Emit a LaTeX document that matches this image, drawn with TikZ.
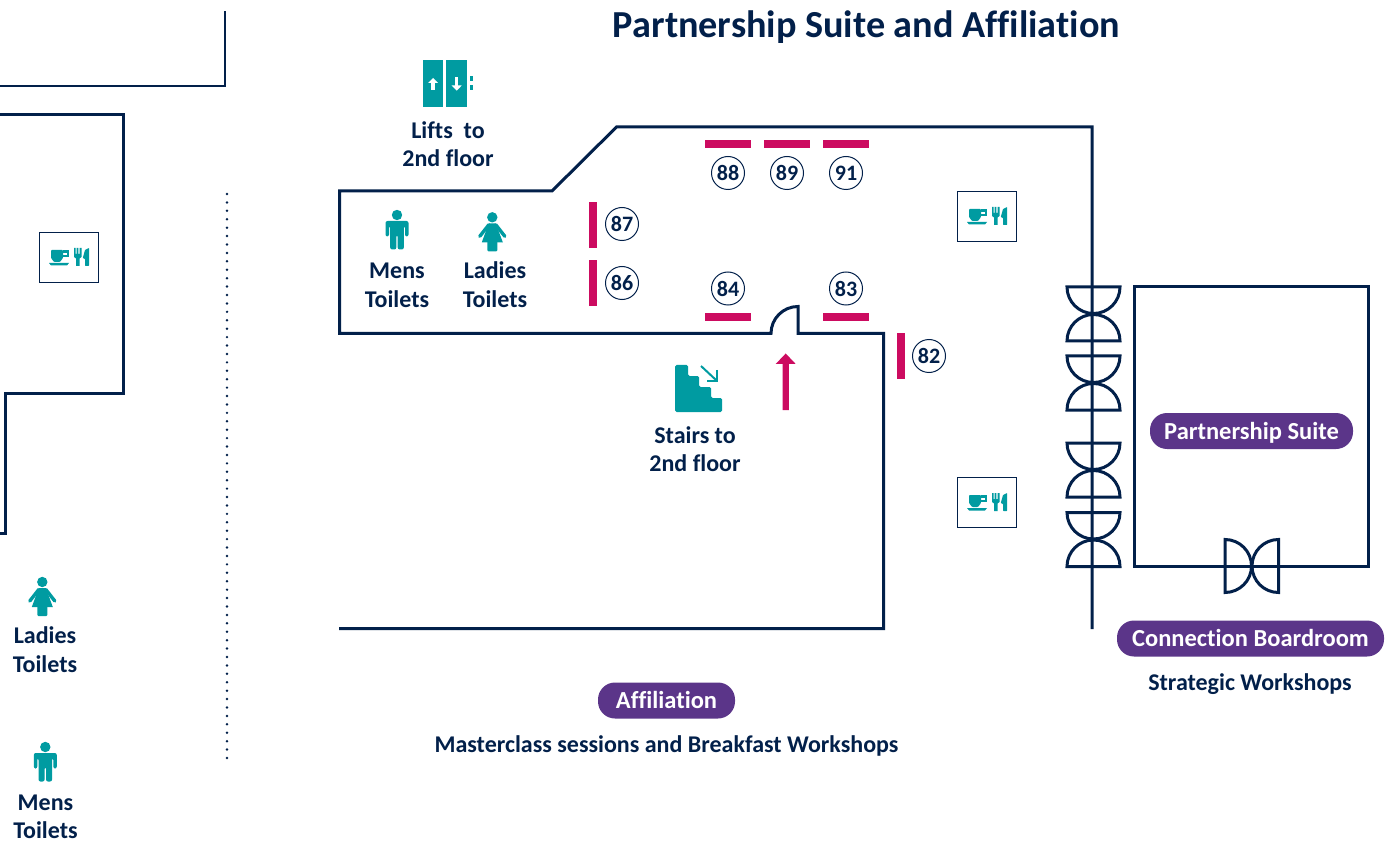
\documentclass[tikz,border=0pt]{standalone}
\usepackage{fontspec}
\setmainfont[Ligatures=NoCommon]{Carlito}
\definecolor{navy}{HTML}{02204A}
\definecolor{teal}{HTML}{009BA1}
\definecolor{crim}{HTML}{CC0B60}
\definecolor{purp}{HTML}{5B3589}
\newcommand{\txt}[1]{\fontsize{#1}{#1}\selectfont\bfseries}
\tikzset{
 wall/.style={draw=navy,line width=3pt,line join=miter},
 door/.style={draw=navy,line width=3pt},
 lbl/.style={text=navy,font=\txt{24},align=center,inner sep=0pt},
 pill/.style={fill=purp,text=white,rounded corners=17pt,font=\txt{24.5},inner sep=0pt,minimum height=36pt,text height=19pt,text depth=3pt},
 stand/.style={fill=crim,draw=none},
 num/.style={circle,draw=navy,line width=1pt,minimum size=33pt,inner sep=0pt,text=navy,font=\txt{22}},
 cater/.style={draw=navy,line width=0.9pt,fill=white,minimum width=59pt,minimum height=50pt,inner sep=0pt},
}
\newcommand{\dbl}[2]{%
 \draw[door] (#1-26.5,#2) -- (#1+26.5,#2) arc[start angle=0,end angle=-180,radius=26.5] -- cycle;
 \draw[door] (#1-26.5,#2-54) -- (#1+26.5,#2-54) arc[start angle=0,end angle=180,radius=26.5] -- cycle;}
\newcommand{\manicon}[2]{%
 \begin{scope}[shift={(#1,#2)}]
 \fill[teal] (0,0) circle (5.2);
 \fill[teal,rounded corners=2pt] (-11.5,-6) -- (11.5,-6) -- (11.5,-21.5) -- (8,-21.5) -- (8,-11) -- (6.8,-11) -- (6.8,-34.5) -- (0.7,-34.5) -- (0.7,-20) -- (-0.7,-20) -- (-0.7,-34.5) -- (-6.8,-34.5) -- (-6.8,-11) -- (-8,-11) -- (-8,-21.5) -- (-11.5,-21.5) -- cycle;
 \end{scope}}
\newcommand{\ladyicon}[2]{%
 \begin{scope}[shift={(#1,#2)}]
 \fill[teal] (0,0) circle (5.2);
 \fill[teal] (-3.5,-6) -- (3.5,-6) -- (10.5,-25) -- (-10.5,-25) -- cycle;
 \fill[teal,rounded corners=1pt] (-5,-24) -- (5,-24) -- (5,-34) -- (-5,-34) -- cycle;
 \draw[teal,line width=3.4pt,line cap=round] (3.5,-7.5) -- (12.5,-19);
 \draw[teal,line width=3.4pt,line cap=round] (-3.5,-7.5) -- (-12.5,-19);
 \end{scope}}
\newcommand{\foodicon}[2]{%
 \begin{scope}[shift={(#1,#2)}]
 \fill[teal,rounded corners=0.8pt] (-18,7) -- (-6,7) -- (-6,-1) -- (-9,-5) -- (-15,-5) -- (-18,-1) -- cycle;
 \draw[teal,line width=2.2pt] (-6,5.5) -- (-1,5.5) -- (-1,1) -- (-6,1);
 \fill[teal] (-20,-6) -- (0,-6) -- (-2,-8.5) -- (-18,-8.5) -- cycle;
 \fill[teal] (5,9) -- (6.5,9) -- (6.5,3) -- (7.7,3) -- (7.7,9) -- (9.3,9) -- (9.3,3) -- (10.5,3) -- (10.5,9) -- (12.5,9) -- (12.5,0) -- (10.6,-1.5) -- (10.6,-9) -- (7,-9) -- (7,-1.5) -- (5,0) -- cycle;
 \fill[teal,rounded corners=0.5pt] (16,-9) -- (20,-9) -- (20,9) -- (16,7) -- (13.8,-1) -- (16,-2) -- cycle;
 \end{scope}}
\newcommand{\caterbox}[3]{%
 \node[cater] (#3) at (#1,#2) {};
 \foodicon{#1}{#2}}
\newcommand{\standh}[1]{\fill[stand] (#1-23,-140) rectangle (#1+23,-148);}
\begin{document}
\begin{tikzpicture}[x=1pt,y=1pt]
\useasboundingbox (0,0) rectangle (1390,-842);
% left fragments
\draw[wall,line width=2.2pt] (-3,-86) -- (225,-86) -- (225,-11);
\draw[wall] (-3,-115) -- (123.7,-115) -- (123.7,-393) -- (5,-393) -- (5,-533) -- (-3,-533);
\caterbox{69}{-257}{cl}
\draw[navy,line width=2.7pt,line cap=round,dash pattern=on 0pt off 8.418pt] (227,-194) -- (227,-758.5);
\ladyicon{42.3}{-582}
\node[lbl] (lt2) at (45,-649.5) {Ladies\\[4.5pt]Toilets};
\manicon{45.3}{-747}
\node[lbl] (mt2) at (45.5,-816.8) {Mens\\[4.5pt]Toilets};
% title
\node[text=navy,font=\txt{38.2},inner sep=0pt] (title) at (866.5,-27.5) {Partnership Suite and Affiliation};
% lifts
\fill[teal] (423,-60) rectangle (443.3,-106.7);
\fill[teal] (446,-60) rectangle (467,-106.7);
\fill[teal] (470,-76) rectangle (473,-81);
\fill[teal] (470,-85) rectangle (473,-90);
\fill[white] (431.4,-90) rectangle (434.6,-82);
\fill[white] (428,-83) -- (433,-78) -- (438,-83) -- cycle;
\fill[white] (455.1,-77) rectangle (458.3,-86);
\fill[white] (451.7,-85.5) -- (456.7,-90.7) -- (461.7,-85.5) -- cycle;
\node[lbl] (lifts) at (448,-144) {Lifts~ to\\[4pt]2nd floor};
% main walls
\draw[wall] (339,-628.5) -- (883.5,-628.5) -- (883.5,-333.5) -- (798,-333.5) -- (798,-306.5)
  arc[start angle=90,end angle=180,radius=27] -- (771,-333.5) -- (339.5,-333.5) -- (339.5,-191) -- (552,-191) -- (616.5,-127) -- (1092,-127) -- (1092,-629);
\dbl{1093.5}{-287}
\dbl{1093.5}{-356}
\dbl{1093.5}{-443}
\dbl{1093.5}{-512.5}
% suite
\draw[wall] (1134.5,-287) rectangle (1368,-566.5);
\draw[door] (1225,-539.5) -- (1225,-592.5) arc[start angle=-90,end angle=90,radius=26.5] -- cycle;
\draw[door] (1278.5,-539.5) -- (1278.5,-592.5) arc[start angle=-90,end angle=-270,radius=26.5] -- cycle;
% stands
\standh{728}\standh{787}\standh{846}
\fill[stand] (705,-313) rectangle (751,-321);
\fill[stand] (823,-313) rectangle (869,-321);
\fill[stand] (589,-202) rectangle (597,-248);
\fill[stand] (589,-260) rectangle (597,-306);
\fill[stand] (897,-333) rectangle (905,-379);
\node[num] (n88) at (728,-173) {88};
\node[num] (n89) at (787,-173) {89};
\node[num] (n91) at (846,-173) {91};
\node[num] (n87) at (622,-224) {87};
\node[num] (n86) at (622,-283) {86};
\node[num] (n84) at (728,-288.5) {84};
\node[num] (n83) at (846,-288.5) {83};
\node[num] (n82) at (929,-356) {82};
% toilets
\manicon{397}{-215}
\ladyicon{492.3}{-217.3}
\node[lbl] (mt) at (397,-285.5) {Mens\\[4.5pt]Toilets};
\node[lbl] (lt) at (495,-284.5) {Ladies\\[4.5pt]Toilets};
% stairs
\fill[teal,rounded corners=1.5pt] (675,-365) -- (688,-365) -- (688,-376) -- (699,-376) -- (699,-387) -- (711,-387) -- (711,-398) -- (722,-398) -- (722,-412) -- (675,-412) -- cycle;
\draw[teal,line width=2pt] (701,-366) -- (716,-380);
\draw[teal,line width=2pt] (717,-370) -- (717,-381) -- (707,-381);
\node[lbl] (stairs) at (695,-449) {Stairs to\\[4.5pt]2nd floor};
% entrance arrow
\fill[crim] (782.5,-410) -- (788.8,-410) -- (788.8,-364) -- (795.7,-364) -- (785.7,-353.5) -- (775.7,-364) -- (782.5,-364) -- cycle;
% catering
\caterbox{987}{-216}{c1}
\caterbox{987}{-502}{c2}
% pills
\node[pill,minimum width=203pt] (ps) at (1251.5,-431) {Partnership Suite};
\node[pill,minimum width=267pt] (cb) at (1250.5,-638.5) {Connection Boardroom};
\node[pill,minimum width=137pt] (af) at (666.5,-700.5) {Affiliation};
\node[lbl] (sw) at (1250,-684) {Strategic Workshops};
\node[lbl] (mc) at (666.5,-746) {Masterclass sessions and Breakfast Workshops};
\end{tikzpicture}
\end{document}
